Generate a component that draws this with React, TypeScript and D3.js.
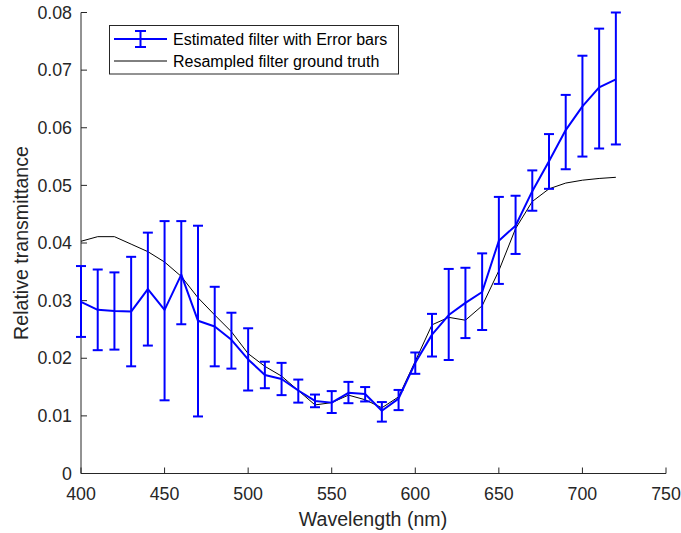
import React from "react";
import * as d3 from "d3";

const wavelengths = [400, 410, 420, 430, 440, 450, 460, 470, 480, 490, 500, 510, 520, 530, 540, 550, 560, 570, 580, 590, 600, 610, 620, 630, 640, 650, 660, 670, 680, 690, 700, 710, 720];
const estimated = [0.0298, 0.0284, 0.0282, 0.0281, 0.0320, 0.0284, 0.0345, 0.0265, 0.0255, 0.0232, 0.0198, 0.0171, 0.0164, 0.0144, 0.0126, 0.0123, 0.0140, 0.0138, 0.0109, 0.0130, 0.0192, 0.0241, 0.0275, 0.0296, 0.0315, 0.0404, 0.0430, 0.0490, 0.0542, 0.0596, 0.0637, 0.0670, 0.0684];
const upperBound = [0.0360, 0.0354, 0.0349, 0.0376, 0.0418, 0.0438, 0.0438, 0.0430, 0.0324, 0.0279, 0.0252, 0.0194, 0.0192, 0.0163, 0.0137, 0.0143, 0.0159, 0.0150, 0.0124, 0.0145, 0.0210, 0.0277, 0.0355, 0.0357, 0.0382, 0.0480, 0.0482, 0.0526, 0.0589, 0.0657, 0.0725, 0.0772, 0.0800];
const lowerBound = [0.0237, 0.0214, 0.0215, 0.0186, 0.0222, 0.0127, 0.0259, 0.0099, 0.0186, 0.0182, 0.0144, 0.0148, 0.0136, 0.0123, 0.0115, 0.0105, 0.0122, 0.0125, 0.0090, 0.0110, 0.0173, 0.0203, 0.0197, 0.0235, 0.0249, 0.0329, 0.0381, 0.0456, 0.0494, 0.0528, 0.0550, 0.0564, 0.0571];
const groundTruth = [0.0403, 0.0411, 0.0411, 0.0398, 0.0385, 0.0367, 0.0342, 0.0305, 0.0275, 0.0246, 0.0208, 0.0186, 0.0169, 0.0144, 0.0119, 0.0123, 0.0136, 0.0128, 0.0114, 0.0133, 0.0195, 0.0258, 0.0271, 0.0266, 0.0291, 0.0352, 0.0425, 0.0472, 0.0494, 0.0504, 0.0509, 0.0512, 0.0514];
const xTicks = [400, 450, 500, 550, 600, 650, 700, 750];
const yTicks = [0, 0.01, 0.02, 0.03, 0.04, 0.05, 0.06, 0.07, 0.08];
const legendLabels = ["Estimated filter with Error bars", "Resampled filter ground truth"];

const W = 681, H = 533;
const FONT = "'Liberation Sans', Arial, Helvetica, sans-serif";
const AX = "#262626";
const BLUE = "#0000ff";

export default function App() {
  const x = d3.scaleLinear().domain([400, 750]).range([81, 666]);
  const y = d3.scaleLinear().domain([0, 0.08]).range([473.5, 12.5]);
  const idx = wavelengths.map((_, i) => i);
  const line = d3.line<number>().x((i) => x(wavelengths[i])).y((i) => y(estimated[i]));
  const truthLine = d3.line<number>().x((i) => x(wavelengths[i])).y((i) => y(groundTruth[i]));
  const cap = 5;

  return (
    <svg width={W} height={H} style={{ position: "absolute", left: 0, top: 0, background: "#fff" }} fontFamily={FONT}>
      <rect x={0} y={0} width={W} height={H} fill="#fff" />
      {/* axes */}
      <line x1={x(400)} x2={x(400)} y1={y(0.08)} y2={y(0)} stroke={AX} strokeWidth={1} />
      <line x1={x(400)} x2={x(750)} y1={y(0)} y2={y(0)} stroke={AX} strokeWidth={1} />
      {xTicks.map((t) => (
        <g key={"xt" + t}>
          <line x1={x(t)} x2={x(t)} y1={y(0)} y2={y(0) - 6} stroke={AX} strokeWidth={1} />
          <text x={x(t)} y={500} textAnchor="middle" fontSize={17.8} fill={AX}>{t}</text>
        </g>
      ))}
      {yTicks.map((t) => (
        <g key={"yt" + t}>
          <line x1={x(400)} x2={x(400) + 6} y1={y(t)} y2={y(t)} stroke={AX} strokeWidth={1} />
          <text x={72} y={y(t)} dy="0.35em" textAnchor="end" fontSize={17.8} fill={AX}>{t === 0 ? "0" : d3.format(".2f")(t)}</text>
        </g>
      ))}
      <text x={373} y={526} textAnchor="middle" fontSize={19.6} fill={AX}>Wavelength (nm)</text>
      <text transform={`translate(28,${y(0.04)}) rotate(-90)`} textAnchor="middle" fontSize={19.6} fill={AX}>Relative transmittance</text>

      {/* ground truth */}
      <path d={truthLine(idx) || ""} fill="none" stroke="#000" strokeWidth={1} />
      {/* error bars */}
      {idx.map((i) => (
        <g key={"eb" + i} stroke={BLUE} strokeWidth={2}>
          <line x1={x(wavelengths[i])} x2={x(wavelengths[i])} y1={y(lowerBound[i])} y2={y(upperBound[i])} />
          <line x1={x(wavelengths[i]) - cap} x2={x(wavelengths[i]) + cap} y1={y(lowerBound[i])} y2={y(lowerBound[i])} />
          <line x1={x(wavelengths[i]) - cap} x2={x(wavelengths[i]) + cap} y1={y(upperBound[i])} y2={y(upperBound[i])} />
        </g>
      ))}
      <path d={line(idx) || ""} fill="none" stroke={BLUE} strokeWidth={2} strokeLinejoin="round" />

      {/* legend */}
      <rect x={109.5} y={25.5} width={289} height={48.5} fill="#fff" stroke={AX} strokeWidth={1} />
      <line x1={114} x2={167} y1={39} y2={39} stroke={BLUE} strokeWidth={2} />
      <line x1={140.5} x2={140.5} y1={31} y2={47} stroke={BLUE} strokeWidth={2} />
      <line x1={135} x2={146} y1={31} y2={31} stroke={BLUE} strokeWidth={2} />
      <line x1={135} x2={146} y1={47} y2={47} stroke={BLUE} strokeWidth={2} />
      <text x={173} y={39} dy="0.35em" fontSize={16} fill="#000">{legendLabels[0]}</text>
      <line x1={114} x2={167} y1={61} y2={61} stroke="#000" strokeWidth={1} />
      <text x={173} y={61} dy="0.35em" fontSize={16} fill="#000">{legendLabels[1]}</text>
    </svg>
  );
}
